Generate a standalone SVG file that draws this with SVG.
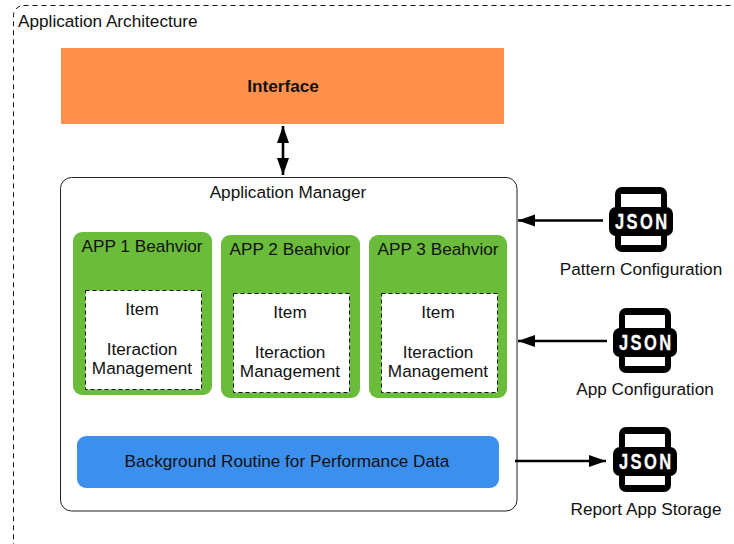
<svg xmlns="http://www.w3.org/2000/svg" width="734" height="544" viewBox="0 0 734 544">
<style>
text{font-family:"Liberation Sans",Arial,sans-serif;font-size:17.2px;fill:#111;text-anchor:middle}
.green{fill:#6abc3a}
.item{fill:#fff;stroke:#111;stroke-width:1;stroke-dasharray:4 3}
.conn{stroke:#000;stroke-width:2.6;fill:none}
.icon{fill:#000}
.hole{fill:#fff}
text.json{font-size:22px;font-weight:bold;fill:#fff;stroke:#fff;stroke-width:.3;letter-spacing:3.2px;text-anchor:start}
</style>
<defs>
<marker id="ah" markerUnits="userSpaceOnUse" markerWidth="18" markerHeight="14" refX="17" refY="7" orient="auto-start-reverse"><path d="M0 1L17 7L0 13Z" fill="#000"/></marker>
</defs>
<rect width="734" height="544" fill="#fff"/>
<g id="architecture">
<rect x="13.5" y="5.5" width="740" height="560" rx="10" fill="none" stroke="#111" stroke-dasharray="5 4"/>
<text x="18" y="27" style="text-anchor:start">Application Architecture</text>
</g>
<g id="interface">
<rect x="61" y="48" width="443" height="76" fill="#ff914d"/>
<text x="283" y="92" font-weight="bold">Interface</text>
</g>
<g id="manager">
<rect x="60.5" y="177.5" width="456.5" height="333.5" rx="11" fill="#fff" stroke="#222"/>
<text x="288" y="198">Application Manager</text>
</g>
<g id="app1">
<rect class="green" x="73" y="232" width="139" height="163" rx="9"/>
<text x="142" y="252">APP 1 Beahvior</text>
<rect class="item" x="85.5" y="290.5" width="116" height="99"/>
<text x="142" y="315">Item</text>
<text x="142" y="355">Iteraction</text>
<text x="142" y="374">Management</text>
</g>
<g id="app2">
<rect class="green" x="221" y="235" width="139" height="163" rx="9"/>
<text x="290" y="255">APP 2 Beahvior</text>
<rect class="item" x="233.5" y="293.5" width="116" height="99"/>
<text x="290" y="318">Item</text>
<text x="290" y="358">Iteraction</text>
<text x="290" y="377">Management</text>
</g>
<g id="app3">
<rect class="green" x="369" y="235" width="138" height="163" rx="9"/>
<text x="438" y="255">APP 3 Beahvior</text>
<rect class="item" x="381.5" y="293.5" width="116" height="99"/>
<text x="438" y="318">Item</text>
<text x="438" y="358">Iteraction</text>
<text x="438" y="377">Management</text>
</g>
<g id="background">
<rect x="77" y="436" width="422" height="52" rx="9" fill="#3d8fee"/>
<text x="287" y="467">Background Routine for Performance Data</text>
</g>
<g id="connectors">
<path class="conn" d="M283 126V175" marker-start="url(#ah)" marker-end="url(#ah)"/>
<path class="conn" d="M603 220.500H518" marker-end="url(#ah)"/>
<path class="conn" d="M607 341H518" marker-end="url(#ah)"/>
<path class="conn" d="M515 461H606" marker-end="url(#ah)"/>
</g>
<g id="pattern-config">
<rect class="icon" x="615" y="187" width="52" height="65" rx="7"/>
<rect class="hole" x="621" y="194" width="40" height="13"/>
<rect class="hole" x="621" y="236" width="40" height="9"/>
<rect class="icon" x="609" y="207" width="64" height="29" rx="7"/>
<text class="json" transform="translate(615 229) scale(.75 1)">JSON</text>
<text x="641" y="275">Pattern Configuration</text>
</g>
<g id="app-config">
<rect class="icon" x="619" y="308" width="52" height="65" rx="7"/>
<rect class="hole" x="625" y="315" width="40" height="13"/>
<rect class="hole" x="625" y="357" width="40" height="9"/>
<rect class="icon" x="613" y="328" width="64" height="29" rx="7"/>
<text class="json" transform="translate(619 350) scale(.75 1)">JSON</text>
<text x="645" y="395">App Configuration</text>
</g>
<g id="report-storage">
<rect class="icon" x="619" y="427" width="52" height="65" rx="7"/>
<rect class="hole" x="625" y="434" width="40" height="13"/>
<rect class="hole" x="625" y="476" width="40" height="9"/>
<rect class="icon" x="613" y="447" width="64" height="29" rx="7"/>
<text class="json" transform="translate(619 469) scale(.75 1)">JSON</text>
<text x="646" y="515">Report App Storage</text>
</g>
</svg>
